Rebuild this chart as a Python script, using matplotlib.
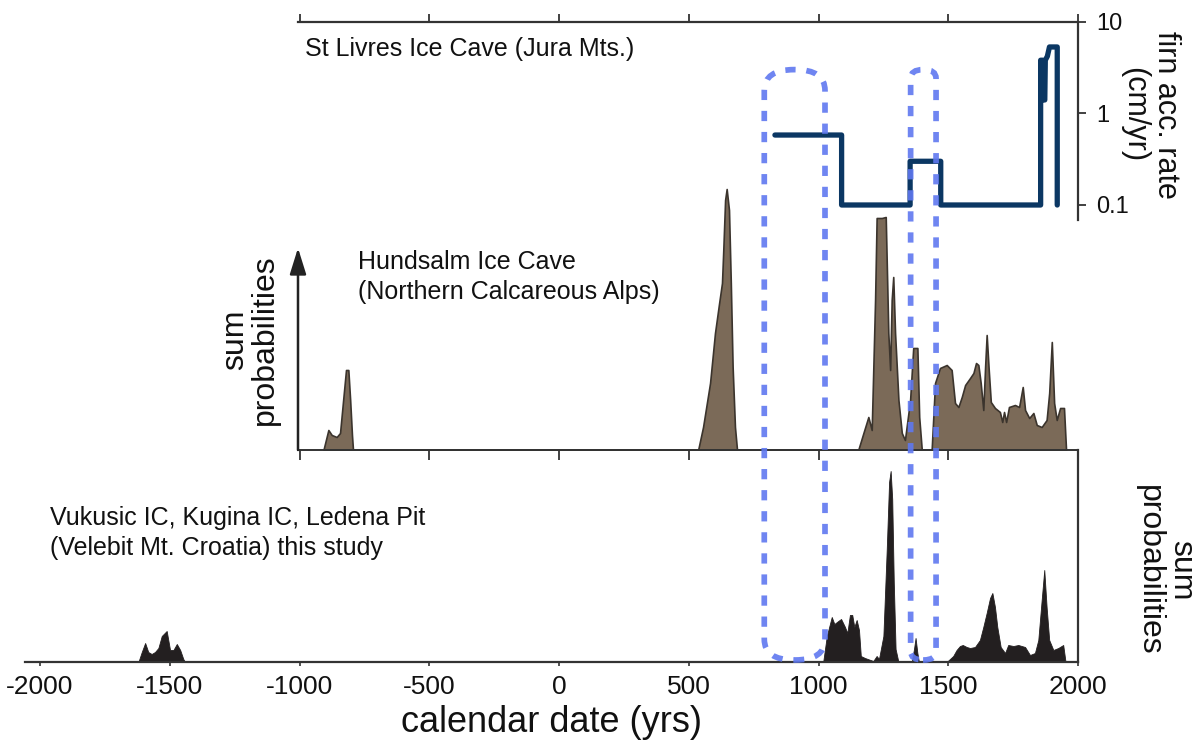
import matplotlib
matplotlib.use("Agg")
import matplotlib.pyplot as plt
from matplotlib.patches import FancyBboxPatch
from matplotlib.transforms import IdentityTransform

plt.rcParams['font.family'] = ['Liberation Sans', 'DejaVu Sans']
plt.rcParams['axes.unicode_minus'] = False

# St Livres Ice Cave, firn accumulation rate (cm/yr)
firn_year = [832, 1089, 1089, 1353, 1353, 1471, 1471, 1856, 1856, 1864, 1866,
             1872, 1874, 1882, 1890, 1920, 1920]
firn_rate = [0.58, 0.58, 0.1, 0.1, 0.3, 0.3, 0.1, 0.1, 3.8, 3.8, 1.4,
             1.4, 3.8, 4.2, 5.3, 5.3, 0.1]

# Hundsalm Ice Cave, sum probabilities (relative)
hund_year = [-908, -889, -876, -857, -844, -832, -821, -812, -805, -798, -794,
             536, 555, 582, 601, 617, 628, 633, 640, 646, 655, 662, 669, 678, 686,
             1153, 1173, 1192, 1205, 1218, 1224, 1244, 1259, 1269, 1276, 1282,
             1288, 1295, 1308, 1321, 1333, 1353, 1365, 1381, 1388, 1398,
             1436, 1449, 1468, 1494, 1513, 1526, 1539, 1552, 1565, 1584, 1597,
             1607, 1616, 1625, 1635, 1642, 1648, 1656, 1664, 1680, 1699, 1708,
             1715, 1723, 1734, 1757, 1773, 1787, 1796, 1812, 1828, 1841, 1860,
             1879, 1889, 1899, 1908, 1918, 1931, 1946, 1954]
hund_prob = [0, 0.20, 0.15, 0.13, 0.17, 0.50, 0.80, 0.80, 0.50, 0.15, 0,
             0, 0.23, 0.67, 1.17, 1.47, 1.67, 2.00, 2.50, 2.61, 2.40, 1.67, 0.83, 0.23, 0,
             0, 0.17, 0.33, 0.20, 1.50, 2.32, 2.32, 2.33, 1.17, 0.80, 1.50,
             1.73, 1.17, 0.50, 0.17, 0.10, 0.50, 1.02, 1.02, 0.33, 0,
             0, 0.67, 0.82, 0.85, 0.80, 0.47, 0.43, 0.53, 0.65, 0.72, 0.77,
             0.87, 0.85, 0.67, 0.40, 0.83, 1.15, 0.80, 0.48, 0.42, 0.38, 0.28,
             0.38, 0.28, 0.43, 0.45, 0.43, 0.63, 0.40, 0.32, 0.37, 0.25, 0.23,
             0.30, 0.57, 1.08, 0.47, 0.30, 0.42, 0.42, 0]

# Vukusic IC, Kugina IC, Ledena Pit (Velebit), sum probabilities
vel_year = [-1621, -1608, -1595, -1583, -1570, -1557, -1544, -1531, -1512, -1499,
            -1486, -1473, -1460, -1448, -1441,
            1018, 1032, 1051, 1061, 1076, 1087, 1102, 1111, 1121, 1130, 1138,
            1147, 1156, 1163, 1179, 1211, 1224, 1233, 1250, 1263, 1272, 1278,
            1284, 1290, 1297, 1308,
            1359, 1368, 1374, 1381, 1387,
            1494, 1519, 1532, 1545, 1556, 1571, 1584, 1603, 1622, 1635, 1648,
            1661, 1670, 1680, 1689, 1702, 1719, 1731, 1751, 1770, 1796, 1815,
            1834, 1847, 1860, 1870, 1879, 1889, 1905, 1924, 1943, 1952]
vel_prob = [0, 0.10, 0.19, 0.10, 0.08, 0.10, 0.14, 0.26, 0.31, 0.12,
            0.12, 0.18, 0.12, 0.03, 0,
            0, 0.26, 0.45, 0.38, 0.41, 0.43, 0.35, 0.29, 0.47, 0.47, 0.35,
            0.42, 0.32, 0.06, 0.04, 0.01, 0.06, 0.03, 0.26, 1.13, 1.80, 1.91,
            1.63, 0.80, 0.13, 0,
            0, 0.13, 0.24, 0.09, 0,
            0, 0.06, 0.12, 0.16, 0.17, 0.15, 0.14, 0.15, 0.22, 0.35, 0.49,
            0.64, 0.69, 0.55, 0.35, 0.15, 0.09, 0.17, 0.16, 0.17, 0.15, 0.07,
            0.09, 0.22, 0.62, 0.92, 0.55, 0.22, 0.12, 0.14, 0.17, 0]

# highlighted periods (years)
periods = [(791, 1025), (1355, 1453)]

xticks_all = [-2000, -1500, -1000, -500, 0, 500, 1000, 1500, 2000]
xticks_top = [-1000, -500, 0, 500, 1000, 1500, 2000]
rate_ticks = [0.1, 1, 10]
rate_labels = ['0.1', '1', '10']

W, H = 1198, 742
fig = plt.figure(figsize=(W / 100, H / 100), dpi=100)


def px_axes(left, top, right, bottom):
    return fig.add_axes([left / W, 1 - bottom / H, (right - left) / W, (bottom - top) / H])


def fx(x):
    return x / W


def fy(y):
    return 1 - y / H


axis_col = '#333333'
txt_col = '#111111'

# ---- bottom panel: Velebit ----
ax_b = px_axes(25, 450, 1078, 662)
ax_b.fill_between(vel_year, vel_prob, 0, color='#231f20', lw=0.6, edgecolor='#231f20')
ax_b.set_xlim(-2058, 2000)
ax_b.set_ylim(0, 2.12)
ax_b.set_xticks(xticks_all)
ax_b.set_xticklabels([str(t) for t in xticks_all], fontsize=19, color=txt_col)
ax_b.set_yticks([])
for s in ['left', 'top']:
    ax_b.spines[s].set_visible(False)
for s in ['bottom', 'right']:
    ax_b.spines[s].set_color(axis_col)
    ax_b.spines[s].set_linewidth(1.6)
ax_b.tick_params(axis='x', direction='out', length=3, width=1.2, color=axis_col, pad=6)
ax_b.set_xlabel('calendar date (yrs)', fontsize=26, color=txt_col, labelpad=5)
ax_b.yaxis.set_label_position('right')
ax_b.set_ylabel('sum\nprobabilities', fontsize=23, color=txt_col, rotation=-90,
                linespacing=1.1, va='center', ha='center', multialignment='center')
ax_b.yaxis.set_label_coords((1165 - 25) / (1078 - 25), (662 - 570) / 212)
ax_b.patch.set_alpha(0)

# ---- middle panel: Hundsalm ----
ax_m = px_axes(298, 150, 1078, 450)
ax_m.fill_between(hund_year, hund_prob, 0, color='#7b6a58', edgecolor='#3b342d', lw=1.2)
ax_m.set_xlim(-1006, 2000)
ax_m.set_ylim(0, 3)
ax_m.set_xticks(xticks_top)
ax_m.set_xticklabels([])
ax_m.set_yticks([])
for s in ['left', 'top', 'right']:
    ax_m.spines[s].set_visible(False)
ax_m.spines['bottom'].set_color(axis_col)
ax_m.spines['bottom'].set_linewidth(1.4)
ax_m.tick_params(axis='x', direction='out', length=7, width=1.3, color=axis_col)
ax_m.annotate('', xy=(-1006, 2.02), xytext=(-1006, 0), annotation_clip=False,
              arrowprops=dict(arrowstyle='-|>,head_length=0.8,head_width=0.25',
                              color='#222222', lw=1.8, mutation_scale=20,
                              shrinkA=0, shrinkB=0))
ax_m.set_ylabel('sum\nprobabilities', fontsize=23, color=txt_col, linespacing=1.0,
                va='center', ha='center', multialignment='center')
ax_m.yaxis.set_label_coords((250 - 298) / 780, (450 - 340) / 300)
ax_m.patch.set_alpha(0)

# ---- top panel: St Livres ----
ax_t = px_axes(298, 21.7, 1078, 220)
ax_t.plot(firn_year, firn_rate, color='#0b3763', lw=3.8,
          solid_joinstyle='round', solid_capstyle='round')
ax_t.set_yscale('log')
ax_t.set_xlim(-1006, 2000)
ax_t.set_ylim(0.0686, 10)
ax_t.set_xticks(xticks_top)
ax_t.set_xticklabels([])
ax_t.xaxis.tick_top()
ax_t.yaxis.tick_right()
ax_t.set_yticks(rate_ticks)
ax_t.set_yticklabels(rate_labels, fontsize=17, color=txt_col)
ax_t.yaxis.set_minor_locator(matplotlib.ticker.NullLocator())
for s in ['left', 'bottom']:
    ax_t.spines[s].set_visible(False)
for s in ['top', 'right']:
    ax_t.spines[s].set_color(axis_col)
    ax_t.spines[s].set_linewidth(1.6)
ax_t.tick_params(axis='x', direction='out', length=6, width=1.3, color=axis_col)
ax_t.tick_params(axis='y', direction='out', length=6, width=1.3, color=axis_col, pad=7)
ax_t.yaxis.set_label_position('right')
ax_t.set_ylabel('firn acc. rate\n(cm/yr)', fontsize=22, color=txt_col, rotation=-90,
                linespacing=1.05, va='center', ha='center', multialignment='center')
ax_t.yaxis.set_label_coords((1150 - 298) / 780, (220 - 115) / 198.3)
ax_t.patch.set_alpha(0)

# ---- site names ----
fig.text(fx(305), fy(49), 'St Livres Ice Cave (Jura Mts.)', fontsize=18,
         color=txt_col, va='center', ha='left')
fig.text(fx(358), fy(277), 'Hundsalm Ice Cave\n(Northern Calcareous Alps)', fontsize=18,
         color=txt_col, va='center', ha='left', linespacing=1.3)
fig.text(fx(50), fy(533), 'Vukusic IC, Kugina IC, Ledena Pit\n(Velebit Mt. Croatia) this study',
         fontsize=18, color=txt_col, va='center', ha='left', linespacing=1.3)

# ---- dashed highlight boxes spanning all panels ----
y_top = ax_t.transData.transform((1500, 3.0))[1]
y_bot = ax_b.transData.transform((0, 0.02))[1]
for p0, p1 in periods:
    x0 = ax_b.transData.transform((p0, 0))[0]
    x1 = ax_b.transData.transform((p1, 0))[0]
    r = (x1 - x0) / 2 * 0.98
    box = FancyBboxPatch((x0, y_bot), x1 - x0, y_top - y_bot,
                         boxstyle=f"round,pad=0,rounding_size={r:.2f}",
                         mutation_aspect=0.7, transform=IdentityTransform(),
                         fill=False, edgecolor='#5f78f0', alpha=0.9, lw=4.1,
                         linestyle=(0, (1.8, 1.9)), capstyle='butt', zorder=10)
    fig.add_artist(box)

fig.savefig('out.png', dpi=100)
